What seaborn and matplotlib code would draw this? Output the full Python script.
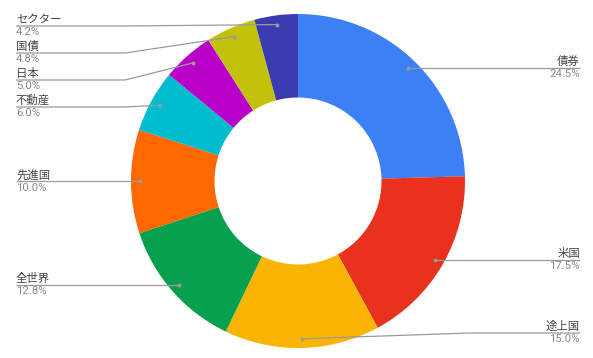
import numpy as np
import matplotlib
matplotlib.use("Agg")
import matplotlib.pyplot as plt
import seaborn as sns

labels = ["債券", "米国", "途上国", "全世界", "先進国", "不動産", "日本", "国債", "セクター"]
values = [24.5, 17.5, 15.0, 12.8, 10.0, 6.0, 5.0, 4.8, 4.2]
pct_labels = ["24.5%", "17.5%", "15.0%", "12.8%", "10.0%", "6.0%", "5.0%", "4.8%", "4.2%"]
colors = ["#3D7FF5", "#E8321E", "#FAB404", "#07A04F", "#FF6700",
          "#00BCCF", "#B800C8", "#C2C20C", "#3B3BAF"]

sns.set_theme(style="white")
plt.rcParams['font.family'] = ['Noto Sans CJK JP', 'DejaVu Sans']

W, H = 593, 358
fig = plt.figure(figsize=(W / 100, H / 100), dpi=100)
ax = fig.add_axes([0, 0, 1, 1])
ax.set_xlim(0, W)
ax.set_ylim(0, H)
ax.axis("off")

cx, cy_px = 298, 181
cy = H - cy_px
R = 167

pal = sns.color_palette(colors)
wedges, _ = ax.pie(values, colors=pal, startangle=90, counterclock=False,
                   center=(cx, cy), radius=R,
                   wedgeprops=dict(width=R * 0.5, linewidth=0))
ax.set_xlim(0, W)
ax.set_ylim(0, H)
ax.set_aspect("equal")

total = sum(values)
cum = np.cumsum([0] + values[:-1])
mids = [(c + v / 2) / total * 360 for c, v in zip(cum, values)]
dots = []
for m in mids:
    a = np.deg2rad(m)
    x = cx + 0.945 * R * np.sin(a)
    y_px = cy_px - 0.945 * R * np.cos(a)
    dots.append((x, y_px))

# layout labels (pixel coords, y downward)
left = sorted([i for i in range(len(values)) if dots[i][0] < cx], key=lambda i: dots[i][1])
right = sorted([i for i in range(len(values)) if dots[i][0] >= cx], key=lambda i: dots[i][1])
ly = {}
prev = 26 - 27
for i in left:
    y = max(dots[i][1], prev + 27, 26)
    ly[i] = y
    prev = y
for i in right:
    ly[i] = min(dots[i][1], 333)

line_c = "#9a9a9a"
name_c = "#444444"
pct_c = "#8a8a8a"
fs = 8.2
for i in range(len(values)):
    dx, dy = dots[i]
    y = ly[i]
    if dx < cx:
        xs = [16, 125, dx]
        ha, tx = "left", 16
    else:
        xs = [580, 470, dx]
        ha, tx = "right", 580
    ys = [y, y, dy]
    ax.plot(xs, [H - v for v in ys], color=line_c, lw=0.9, solid_capstyle="butt")
    ax.plot([dx], [H - dy], "o", color=line_c, ms=2.8, mec="none")
    ax.text(tx, H - y + 1.2, labels[i], ha=ha, va="bottom", fontsize=fs, color=name_c)
    ax.text(tx, H - y - 1.2, pct_labels[i], ha=ha, va="top", fontsize=fs, color=pct_c,
            family=["Roboto", "DejaVu Sans"])

fig.savefig("out.png", dpi=100, facecolor="white")
